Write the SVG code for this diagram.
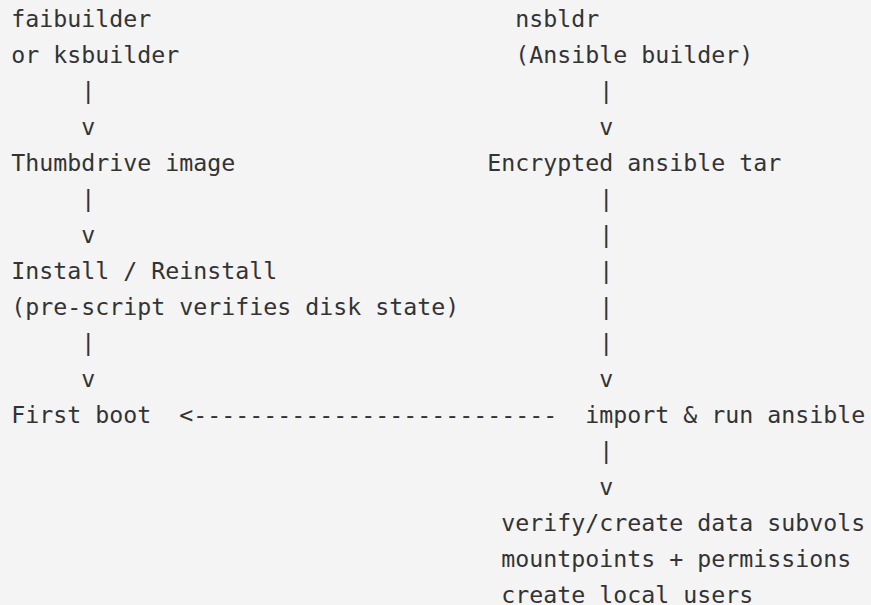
<svg xmlns="http://www.w3.org/2000/svg" width="871" height="605" viewBox="0 0 871 605">
<style>
text{font-family:"DejaVu Sans Mono","Liberation Mono",monospace;font-size:23.25px;fill:#333;white-space:pre}
</style>
<rect width="871" height="605" fill="#f4f4f4"/>
<g id="faibuilder">
<text x="11.3" y="27">faibuilder</text>
<text x="11.3" y="63">or ksbuilder</text>
</g>
<g id="nsbldr">
<text x="515.3" y="27">nsbldr</text>
<text x="515.3" y="63">(Ansible builder)</text>
</g>
<g id="thumbdrive">
<text x="11.3" y="171">Thumbdrive image</text>
</g>
<g id="tar">
<text x="487.3" y="171">Encrypted ansible tar</text>
</g>
<g id="install">
<text x="11.3" y="279">Install / Reinstall</text>
<text x="11.3" y="315">(pre-script verifies disk state)</text>
</g>
<g id="firstboot">
<text x="11.3" y="423">First boot</text>
</g>
<g id="import">
<text x="585.3" y="423">import &amp; run ansible</text>
</g>
<g id="verify">
<text x="501.3" y="531">verify/create data subvols</text>
<text x="501.3" y="567">mountpoints + permissions</text>
<text x="501.3" y="603">create local users</text>
</g>
<g id="connectors">
<text x="81.3" y="99">|</text>
<text x="81.3" y="135">v</text>
<text x="81.3" y="207">|</text>
<text x="81.3" y="243">v</text>
<text x="81.3" y="351">|</text>
<text x="81.3" y="387">v</text>
<text x="599.3" y="99">|</text>
<text x="599.3" y="135">v</text>
<text x="599.3" y="207">|</text>
<text x="599.3" y="243">|</text>
<text x="599.3" y="279">|</text>
<text x="599.3" y="315">|</text>
<text x="599.3" y="351">|</text>
<text x="599.3" y="387">v</text>
<text x="179.3" y="423">&lt;--------------------------</text>
<text x="599.3" y="459">|</text>
<text x="599.3" y="495">v</text>
</g>
</svg>
